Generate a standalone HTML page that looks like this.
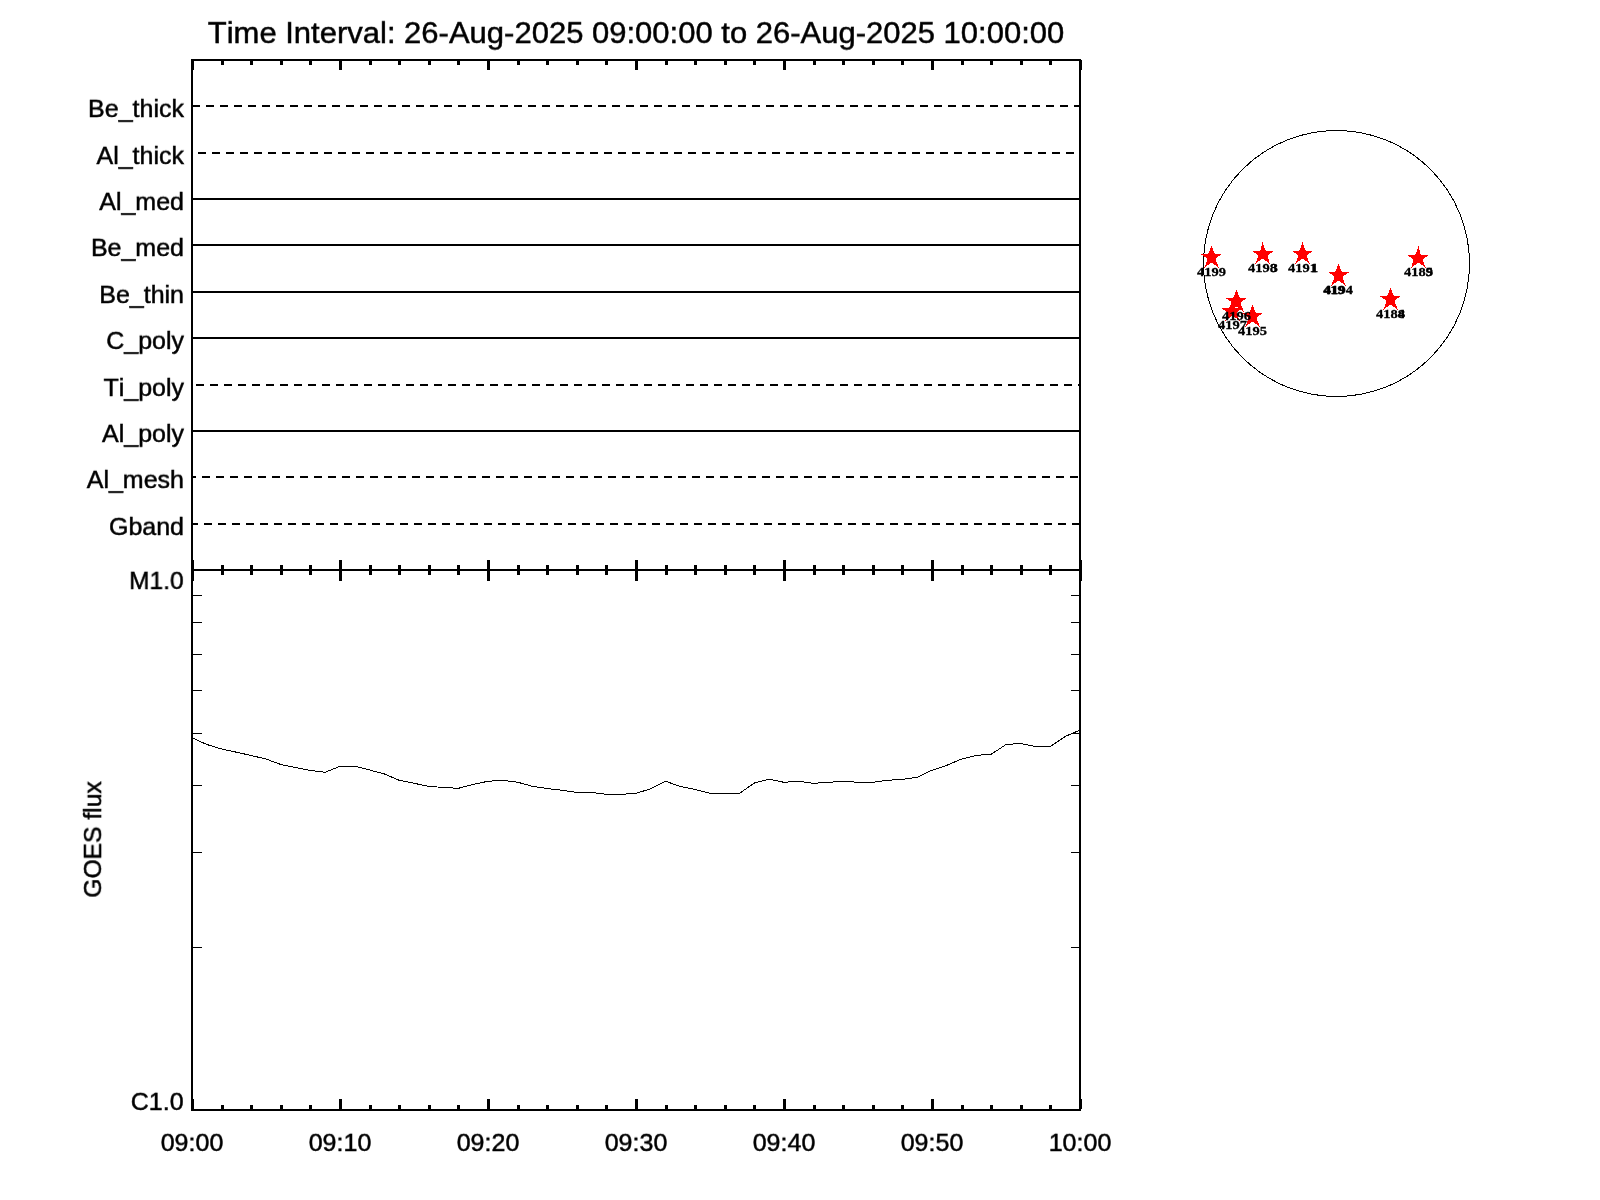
<!DOCTYPE html>
<html><head><meta charset="utf-8"><title>plot</title>
<style>
html,body{margin:0;padding:0;background:#fff;}
body{width:1600px;height:1200px;position:relative;overflow:hidden;font-family:"Liberation Sans",sans-serif;color:#000;}
i{position:absolute;display:block;}
.t{position:absolute;will-change:transform;font-kerning:none;-webkit-text-stroke:0.5px #000;transform:scaleY(0.955);transform-origin:50% 23.2px;font-size:25px;line-height:29px;white-space:nowrap;}
.r{text-align:right;}
.c{text-align:center;}
.ttl{font-size:31px;line-height:36px;transform:scale(1,0.95);transform-origin:50% 28.8px;}
.rot{transform:rotate(-90deg) scale(0.987,0.955);transform-origin:center center;}
svg{position:absolute;left:0;top:0;will-change:transform;}
.n{font-family:"Liberation Serif",serif;font-weight:bold;font-size:13.3px;stroke:#000;stroke-width:0.3px;text-anchor:middle;fill:#000;}
</style></head><body>
<i style="left:191px;top:59px;width:2px;height:1052px;background:#000"></i>
<i style="left:1079px;top:59px;width:2px;height:1052px;background:#000"></i>
<i style="left:191px;top:59px;width:890px;height:2px;background:#000"></i>
<i style="left:191px;top:569px;width:890px;height:2px;background:#000"></i>
<i style="left:191px;top:1109px;width:890px;height:2px;background:#000"></i>
<i style="left:192px;top:60px;width:2px;height:10px;background:#000"></i>
<i style="left:192px;top:560px;width:2px;height:21px;background:#000"></i>
<i style="left:192px;top:1099px;width:2px;height:10px;background:#000"></i>
<i style="left:221px;top:60px;width:3px;height:5px;background:#000"></i>
<i style="left:221px;top:565px;width:3px;height:10px;background:#000"></i>
<i style="left:221px;top:1105px;width:3px;height:5px;background:#000"></i>
<i style="left:250px;top:60px;width:3px;height:5px;background:#000"></i>
<i style="left:250px;top:565px;width:3px;height:10px;background:#000"></i>
<i style="left:250px;top:1105px;width:3px;height:5px;background:#000"></i>
<i style="left:280px;top:60px;width:3px;height:5px;background:#000"></i>
<i style="left:280px;top:565px;width:3px;height:10px;background:#000"></i>
<i style="left:280px;top:1105px;width:3px;height:5px;background:#000"></i>
<i style="left:309px;top:60px;width:3px;height:5px;background:#000"></i>
<i style="left:309px;top:565px;width:3px;height:10px;background:#000"></i>
<i style="left:309px;top:1105px;width:3px;height:5px;background:#000"></i>
<i style="left:339px;top:60px;width:3px;height:10px;background:#000"></i>
<i style="left:339px;top:560px;width:3px;height:21px;background:#000"></i>
<i style="left:339px;top:1099px;width:3px;height:10px;background:#000"></i>
<i style="left:369px;top:60px;width:3px;height:5px;background:#000"></i>
<i style="left:369px;top:565px;width:3px;height:10px;background:#000"></i>
<i style="left:369px;top:1105px;width:3px;height:5px;background:#000"></i>
<i style="left:398px;top:60px;width:3px;height:5px;background:#000"></i>
<i style="left:398px;top:565px;width:3px;height:10px;background:#000"></i>
<i style="left:398px;top:1105px;width:3px;height:5px;background:#000"></i>
<i style="left:428px;top:60px;width:3px;height:5px;background:#000"></i>
<i style="left:428px;top:565px;width:3px;height:10px;background:#000"></i>
<i style="left:428px;top:1105px;width:3px;height:5px;background:#000"></i>
<i style="left:457px;top:60px;width:3px;height:5px;background:#000"></i>
<i style="left:457px;top:565px;width:3px;height:10px;background:#000"></i>
<i style="left:457px;top:1105px;width:3px;height:5px;background:#000"></i>
<i style="left:487px;top:60px;width:3px;height:10px;background:#000"></i>
<i style="left:487px;top:560px;width:3px;height:21px;background:#000"></i>
<i style="left:487px;top:1099px;width:3px;height:10px;background:#000"></i>
<i style="left:517px;top:60px;width:3px;height:5px;background:#000"></i>
<i style="left:517px;top:565px;width:3px;height:10px;background:#000"></i>
<i style="left:517px;top:1105px;width:3px;height:5px;background:#000"></i>
<i style="left:546px;top:60px;width:3px;height:5px;background:#000"></i>
<i style="left:546px;top:565px;width:3px;height:10px;background:#000"></i>
<i style="left:546px;top:1105px;width:3px;height:5px;background:#000"></i>
<i style="left:576px;top:60px;width:3px;height:5px;background:#000"></i>
<i style="left:576px;top:565px;width:3px;height:10px;background:#000"></i>
<i style="left:576px;top:1105px;width:3px;height:5px;background:#000"></i>
<i style="left:605px;top:60px;width:3px;height:5px;background:#000"></i>
<i style="left:605px;top:565px;width:3px;height:10px;background:#000"></i>
<i style="left:605px;top:1105px;width:3px;height:5px;background:#000"></i>
<i style="left:635px;top:60px;width:3px;height:10px;background:#000"></i>
<i style="left:635px;top:560px;width:3px;height:21px;background:#000"></i>
<i style="left:635px;top:1099px;width:3px;height:10px;background:#000"></i>
<i style="left:665px;top:60px;width:3px;height:5px;background:#000"></i>
<i style="left:665px;top:565px;width:3px;height:10px;background:#000"></i>
<i style="left:665px;top:1105px;width:3px;height:5px;background:#000"></i>
<i style="left:694px;top:60px;width:3px;height:5px;background:#000"></i>
<i style="left:694px;top:565px;width:3px;height:10px;background:#000"></i>
<i style="left:694px;top:1105px;width:3px;height:5px;background:#000"></i>
<i style="left:724px;top:60px;width:3px;height:5px;background:#000"></i>
<i style="left:724px;top:565px;width:3px;height:10px;background:#000"></i>
<i style="left:724px;top:1105px;width:3px;height:5px;background:#000"></i>
<i style="left:753px;top:60px;width:3px;height:5px;background:#000"></i>
<i style="left:753px;top:565px;width:3px;height:10px;background:#000"></i>
<i style="left:753px;top:1105px;width:3px;height:5px;background:#000"></i>
<i style="left:783px;top:60px;width:3px;height:10px;background:#000"></i>
<i style="left:783px;top:560px;width:3px;height:21px;background:#000"></i>
<i style="left:783px;top:1099px;width:3px;height:10px;background:#000"></i>
<i style="left:813px;top:60px;width:3px;height:5px;background:#000"></i>
<i style="left:813px;top:565px;width:3px;height:10px;background:#000"></i>
<i style="left:813px;top:1105px;width:3px;height:5px;background:#000"></i>
<i style="left:842px;top:60px;width:3px;height:5px;background:#000"></i>
<i style="left:842px;top:565px;width:3px;height:10px;background:#000"></i>
<i style="left:842px;top:1105px;width:3px;height:5px;background:#000"></i>
<i style="left:872px;top:60px;width:3px;height:5px;background:#000"></i>
<i style="left:872px;top:565px;width:3px;height:10px;background:#000"></i>
<i style="left:872px;top:1105px;width:3px;height:5px;background:#000"></i>
<i style="left:901px;top:60px;width:3px;height:5px;background:#000"></i>
<i style="left:901px;top:565px;width:3px;height:10px;background:#000"></i>
<i style="left:901px;top:1105px;width:3px;height:5px;background:#000"></i>
<i style="left:931px;top:60px;width:3px;height:10px;background:#000"></i>
<i style="left:931px;top:560px;width:3px;height:21px;background:#000"></i>
<i style="left:931px;top:1099px;width:3px;height:10px;background:#000"></i>
<i style="left:961px;top:60px;width:3px;height:5px;background:#000"></i>
<i style="left:961px;top:565px;width:3px;height:10px;background:#000"></i>
<i style="left:961px;top:1105px;width:3px;height:5px;background:#000"></i>
<i style="left:990px;top:60px;width:3px;height:5px;background:#000"></i>
<i style="left:990px;top:565px;width:3px;height:10px;background:#000"></i>
<i style="left:990px;top:1105px;width:3px;height:5px;background:#000"></i>
<i style="left:1020px;top:60px;width:3px;height:5px;background:#000"></i>
<i style="left:1020px;top:565px;width:3px;height:10px;background:#000"></i>
<i style="left:1020px;top:1105px;width:3px;height:5px;background:#000"></i>
<i style="left:1049px;top:60px;width:3px;height:5px;background:#000"></i>
<i style="left:1049px;top:565px;width:3px;height:10px;background:#000"></i>
<i style="left:1049px;top:1105px;width:3px;height:5px;background:#000"></i>
<i style="left:1080px;top:60px;width:2px;height:10px;background:#000"></i>
<i style="left:1080px;top:560px;width:2px;height:21px;background:#000"></i>
<i style="left:1080px;top:1099px;width:2px;height:10px;background:#000"></i>
<i style="left:192px;top:105px;width:8px;height:2px;background:#000"></i>
<i style="left:206px;top:105px;width:8px;height:2px;background:#000"></i>
<i style="left:220px;top:105px;width:8px;height:2px;background:#000"></i>
<i style="left:234px;top:105px;width:8px;height:2px;background:#000"></i>
<i style="left:248px;top:105px;width:8px;height:2px;background:#000"></i>
<i style="left:262px;top:105px;width:8px;height:2px;background:#000"></i>
<i style="left:276px;top:105px;width:8px;height:2px;background:#000"></i>
<i style="left:290px;top:105px;width:8px;height:2px;background:#000"></i>
<i style="left:304px;top:105px;width:8px;height:2px;background:#000"></i>
<i style="left:318px;top:105px;width:8px;height:2px;background:#000"></i>
<i style="left:332px;top:105px;width:8px;height:2px;background:#000"></i>
<i style="left:346px;top:105px;width:8px;height:2px;background:#000"></i>
<i style="left:360px;top:105px;width:8px;height:2px;background:#000"></i>
<i style="left:374px;top:105px;width:8px;height:2px;background:#000"></i>
<i style="left:388px;top:105px;width:8px;height:2px;background:#000"></i>
<i style="left:402px;top:105px;width:8px;height:2px;background:#000"></i>
<i style="left:416px;top:105px;width:8px;height:2px;background:#000"></i>
<i style="left:430px;top:105px;width:8px;height:2px;background:#000"></i>
<i style="left:444px;top:105px;width:8px;height:2px;background:#000"></i>
<i style="left:458px;top:105px;width:8px;height:2px;background:#000"></i>
<i style="left:472px;top:105px;width:8px;height:2px;background:#000"></i>
<i style="left:486px;top:105px;width:8px;height:2px;background:#000"></i>
<i style="left:500px;top:105px;width:8px;height:2px;background:#000"></i>
<i style="left:514px;top:105px;width:8px;height:2px;background:#000"></i>
<i style="left:528px;top:105px;width:8px;height:2px;background:#000"></i>
<i style="left:542px;top:105px;width:8px;height:2px;background:#000"></i>
<i style="left:556px;top:105px;width:8px;height:2px;background:#000"></i>
<i style="left:570px;top:105px;width:8px;height:2px;background:#000"></i>
<i style="left:584px;top:105px;width:8px;height:2px;background:#000"></i>
<i style="left:598px;top:105px;width:8px;height:2px;background:#000"></i>
<i style="left:612px;top:105px;width:8px;height:2px;background:#000"></i>
<i style="left:626px;top:105px;width:8px;height:2px;background:#000"></i>
<i style="left:640px;top:105px;width:8px;height:2px;background:#000"></i>
<i style="left:654px;top:105px;width:8px;height:2px;background:#000"></i>
<i style="left:668px;top:105px;width:8px;height:2px;background:#000"></i>
<i style="left:682px;top:105px;width:8px;height:2px;background:#000"></i>
<i style="left:696px;top:105px;width:8px;height:2px;background:#000"></i>
<i style="left:710px;top:105px;width:8px;height:2px;background:#000"></i>
<i style="left:724px;top:105px;width:8px;height:2px;background:#000"></i>
<i style="left:738px;top:105px;width:8px;height:2px;background:#000"></i>
<i style="left:752px;top:105px;width:8px;height:2px;background:#000"></i>
<i style="left:766px;top:105px;width:8px;height:2px;background:#000"></i>
<i style="left:780px;top:105px;width:8px;height:2px;background:#000"></i>
<i style="left:794px;top:105px;width:8px;height:2px;background:#000"></i>
<i style="left:808px;top:105px;width:8px;height:2px;background:#000"></i>
<i style="left:822px;top:105px;width:8px;height:2px;background:#000"></i>
<i style="left:836px;top:105px;width:8px;height:2px;background:#000"></i>
<i style="left:850px;top:105px;width:8px;height:2px;background:#000"></i>
<i style="left:864px;top:105px;width:8px;height:2px;background:#000"></i>
<i style="left:878px;top:105px;width:8px;height:2px;background:#000"></i>
<i style="left:892px;top:105px;width:8px;height:2px;background:#000"></i>
<i style="left:906px;top:105px;width:8px;height:2px;background:#000"></i>
<i style="left:920px;top:105px;width:8px;height:2px;background:#000"></i>
<i style="left:934px;top:105px;width:8px;height:2px;background:#000"></i>
<i style="left:948px;top:105px;width:8px;height:2px;background:#000"></i>
<i style="left:962px;top:105px;width:8px;height:2px;background:#000"></i>
<i style="left:976px;top:105px;width:8px;height:2px;background:#000"></i>
<i style="left:990px;top:105px;width:8px;height:2px;background:#000"></i>
<i style="left:1004px;top:105px;width:8px;height:2px;background:#000"></i>
<i style="left:1018px;top:105px;width:8px;height:2px;background:#000"></i>
<i style="left:1032px;top:105px;width:8px;height:2px;background:#000"></i>
<i style="left:1046px;top:105px;width:8px;height:2px;background:#000"></i>
<i style="left:1060px;top:105px;width:8px;height:2px;background:#000"></i>
<i style="left:1074px;top:105px;width:6px;height:2px;background:#000"></i>
<i style="left:198px;top:152px;width:8px;height:2px;background:#000"></i>
<i style="left:212px;top:152px;width:8px;height:2px;background:#000"></i>
<i style="left:226px;top:152px;width:8px;height:2px;background:#000"></i>
<i style="left:240px;top:152px;width:8px;height:2px;background:#000"></i>
<i style="left:254px;top:152px;width:8px;height:2px;background:#000"></i>
<i style="left:268px;top:152px;width:8px;height:2px;background:#000"></i>
<i style="left:282px;top:152px;width:8px;height:2px;background:#000"></i>
<i style="left:296px;top:152px;width:8px;height:2px;background:#000"></i>
<i style="left:310px;top:152px;width:8px;height:2px;background:#000"></i>
<i style="left:324px;top:152px;width:8px;height:2px;background:#000"></i>
<i style="left:338px;top:152px;width:8px;height:2px;background:#000"></i>
<i style="left:352px;top:152px;width:8px;height:2px;background:#000"></i>
<i style="left:366px;top:152px;width:8px;height:2px;background:#000"></i>
<i style="left:380px;top:152px;width:8px;height:2px;background:#000"></i>
<i style="left:394px;top:152px;width:8px;height:2px;background:#000"></i>
<i style="left:408px;top:152px;width:8px;height:2px;background:#000"></i>
<i style="left:422px;top:152px;width:8px;height:2px;background:#000"></i>
<i style="left:436px;top:152px;width:8px;height:2px;background:#000"></i>
<i style="left:450px;top:152px;width:8px;height:2px;background:#000"></i>
<i style="left:464px;top:152px;width:8px;height:2px;background:#000"></i>
<i style="left:478px;top:152px;width:8px;height:2px;background:#000"></i>
<i style="left:492px;top:152px;width:8px;height:2px;background:#000"></i>
<i style="left:506px;top:152px;width:8px;height:2px;background:#000"></i>
<i style="left:520px;top:152px;width:8px;height:2px;background:#000"></i>
<i style="left:534px;top:152px;width:8px;height:2px;background:#000"></i>
<i style="left:548px;top:152px;width:8px;height:2px;background:#000"></i>
<i style="left:562px;top:152px;width:8px;height:2px;background:#000"></i>
<i style="left:576px;top:152px;width:8px;height:2px;background:#000"></i>
<i style="left:590px;top:152px;width:8px;height:2px;background:#000"></i>
<i style="left:604px;top:152px;width:8px;height:2px;background:#000"></i>
<i style="left:618px;top:152px;width:8px;height:2px;background:#000"></i>
<i style="left:632px;top:152px;width:8px;height:2px;background:#000"></i>
<i style="left:646px;top:152px;width:8px;height:2px;background:#000"></i>
<i style="left:660px;top:152px;width:8px;height:2px;background:#000"></i>
<i style="left:674px;top:152px;width:8px;height:2px;background:#000"></i>
<i style="left:688px;top:152px;width:8px;height:2px;background:#000"></i>
<i style="left:702px;top:152px;width:8px;height:2px;background:#000"></i>
<i style="left:716px;top:152px;width:8px;height:2px;background:#000"></i>
<i style="left:730px;top:152px;width:8px;height:2px;background:#000"></i>
<i style="left:744px;top:152px;width:8px;height:2px;background:#000"></i>
<i style="left:758px;top:152px;width:8px;height:2px;background:#000"></i>
<i style="left:772px;top:152px;width:8px;height:2px;background:#000"></i>
<i style="left:786px;top:152px;width:8px;height:2px;background:#000"></i>
<i style="left:800px;top:152px;width:8px;height:2px;background:#000"></i>
<i style="left:814px;top:152px;width:8px;height:2px;background:#000"></i>
<i style="left:828px;top:152px;width:8px;height:2px;background:#000"></i>
<i style="left:842px;top:152px;width:8px;height:2px;background:#000"></i>
<i style="left:856px;top:152px;width:8px;height:2px;background:#000"></i>
<i style="left:870px;top:152px;width:8px;height:2px;background:#000"></i>
<i style="left:884px;top:152px;width:8px;height:2px;background:#000"></i>
<i style="left:898px;top:152px;width:8px;height:2px;background:#000"></i>
<i style="left:912px;top:152px;width:8px;height:2px;background:#000"></i>
<i style="left:926px;top:152px;width:8px;height:2px;background:#000"></i>
<i style="left:940px;top:152px;width:8px;height:2px;background:#000"></i>
<i style="left:954px;top:152px;width:8px;height:2px;background:#000"></i>
<i style="left:968px;top:152px;width:8px;height:2px;background:#000"></i>
<i style="left:982px;top:152px;width:8px;height:2px;background:#000"></i>
<i style="left:996px;top:152px;width:8px;height:2px;background:#000"></i>
<i style="left:1010px;top:152px;width:8px;height:2px;background:#000"></i>
<i style="left:1024px;top:152px;width:8px;height:2px;background:#000"></i>
<i style="left:1038px;top:152px;width:8px;height:2px;background:#000"></i>
<i style="left:1052px;top:152px;width:8px;height:2px;background:#000"></i>
<i style="left:1066px;top:152px;width:8px;height:2px;background:#000"></i>
<i style="left:193px;top:198px;width:886px;height:2px;background:#000"></i>
<i style="left:193px;top:244px;width:886px;height:2px;background:#000"></i>
<i style="left:193px;top:291px;width:886px;height:2px;background:#000"></i>
<i style="left:193px;top:337px;width:886px;height:2px;background:#000"></i>
<i style="left:196px;top:384px;width:8px;height:2px;background:#000"></i>
<i style="left:210px;top:384px;width:8px;height:2px;background:#000"></i>
<i style="left:224px;top:384px;width:8px;height:2px;background:#000"></i>
<i style="left:238px;top:384px;width:8px;height:2px;background:#000"></i>
<i style="left:252px;top:384px;width:8px;height:2px;background:#000"></i>
<i style="left:266px;top:384px;width:8px;height:2px;background:#000"></i>
<i style="left:280px;top:384px;width:8px;height:2px;background:#000"></i>
<i style="left:294px;top:384px;width:8px;height:2px;background:#000"></i>
<i style="left:308px;top:384px;width:8px;height:2px;background:#000"></i>
<i style="left:322px;top:384px;width:8px;height:2px;background:#000"></i>
<i style="left:336px;top:384px;width:8px;height:2px;background:#000"></i>
<i style="left:350px;top:384px;width:8px;height:2px;background:#000"></i>
<i style="left:364px;top:384px;width:8px;height:2px;background:#000"></i>
<i style="left:378px;top:384px;width:8px;height:2px;background:#000"></i>
<i style="left:392px;top:384px;width:8px;height:2px;background:#000"></i>
<i style="left:406px;top:384px;width:8px;height:2px;background:#000"></i>
<i style="left:420px;top:384px;width:8px;height:2px;background:#000"></i>
<i style="left:434px;top:384px;width:8px;height:2px;background:#000"></i>
<i style="left:448px;top:384px;width:8px;height:2px;background:#000"></i>
<i style="left:462px;top:384px;width:8px;height:2px;background:#000"></i>
<i style="left:476px;top:384px;width:8px;height:2px;background:#000"></i>
<i style="left:490px;top:384px;width:8px;height:2px;background:#000"></i>
<i style="left:504px;top:384px;width:8px;height:2px;background:#000"></i>
<i style="left:518px;top:384px;width:8px;height:2px;background:#000"></i>
<i style="left:532px;top:384px;width:8px;height:2px;background:#000"></i>
<i style="left:546px;top:384px;width:8px;height:2px;background:#000"></i>
<i style="left:560px;top:384px;width:8px;height:2px;background:#000"></i>
<i style="left:574px;top:384px;width:8px;height:2px;background:#000"></i>
<i style="left:588px;top:384px;width:8px;height:2px;background:#000"></i>
<i style="left:602px;top:384px;width:8px;height:2px;background:#000"></i>
<i style="left:616px;top:384px;width:8px;height:2px;background:#000"></i>
<i style="left:630px;top:384px;width:8px;height:2px;background:#000"></i>
<i style="left:644px;top:384px;width:8px;height:2px;background:#000"></i>
<i style="left:658px;top:384px;width:8px;height:2px;background:#000"></i>
<i style="left:672px;top:384px;width:8px;height:2px;background:#000"></i>
<i style="left:686px;top:384px;width:8px;height:2px;background:#000"></i>
<i style="left:700px;top:384px;width:8px;height:2px;background:#000"></i>
<i style="left:714px;top:384px;width:8px;height:2px;background:#000"></i>
<i style="left:728px;top:384px;width:8px;height:2px;background:#000"></i>
<i style="left:742px;top:384px;width:8px;height:2px;background:#000"></i>
<i style="left:756px;top:384px;width:8px;height:2px;background:#000"></i>
<i style="left:770px;top:384px;width:8px;height:2px;background:#000"></i>
<i style="left:784px;top:384px;width:8px;height:2px;background:#000"></i>
<i style="left:798px;top:384px;width:8px;height:2px;background:#000"></i>
<i style="left:812px;top:384px;width:8px;height:2px;background:#000"></i>
<i style="left:826px;top:384px;width:8px;height:2px;background:#000"></i>
<i style="left:840px;top:384px;width:8px;height:2px;background:#000"></i>
<i style="left:854px;top:384px;width:8px;height:2px;background:#000"></i>
<i style="left:868px;top:384px;width:8px;height:2px;background:#000"></i>
<i style="left:882px;top:384px;width:8px;height:2px;background:#000"></i>
<i style="left:896px;top:384px;width:8px;height:2px;background:#000"></i>
<i style="left:910px;top:384px;width:8px;height:2px;background:#000"></i>
<i style="left:924px;top:384px;width:8px;height:2px;background:#000"></i>
<i style="left:938px;top:384px;width:8px;height:2px;background:#000"></i>
<i style="left:952px;top:384px;width:8px;height:2px;background:#000"></i>
<i style="left:966px;top:384px;width:8px;height:2px;background:#000"></i>
<i style="left:980px;top:384px;width:8px;height:2px;background:#000"></i>
<i style="left:994px;top:384px;width:8px;height:2px;background:#000"></i>
<i style="left:1008px;top:384px;width:8px;height:2px;background:#000"></i>
<i style="left:1022px;top:384px;width:8px;height:2px;background:#000"></i>
<i style="left:1036px;top:384px;width:8px;height:2px;background:#000"></i>
<i style="left:1050px;top:384px;width:8px;height:2px;background:#000"></i>
<i style="left:1064px;top:384px;width:8px;height:2px;background:#000"></i>
<i style="left:1078px;top:384px;width:2px;height:2px;background:#000"></i>
<i style="left:193px;top:430px;width:886px;height:2px;background:#000"></i>
<i style="left:192px;top:476px;width:4px;height:2px;background:#000"></i>
<i style="left:202px;top:476px;width:8px;height:2px;background:#000"></i>
<i style="left:216px;top:476px;width:8px;height:2px;background:#000"></i>
<i style="left:230px;top:476px;width:8px;height:2px;background:#000"></i>
<i style="left:244px;top:476px;width:8px;height:2px;background:#000"></i>
<i style="left:258px;top:476px;width:8px;height:2px;background:#000"></i>
<i style="left:272px;top:476px;width:8px;height:2px;background:#000"></i>
<i style="left:286px;top:476px;width:8px;height:2px;background:#000"></i>
<i style="left:300px;top:476px;width:8px;height:2px;background:#000"></i>
<i style="left:314px;top:476px;width:8px;height:2px;background:#000"></i>
<i style="left:328px;top:476px;width:8px;height:2px;background:#000"></i>
<i style="left:342px;top:476px;width:8px;height:2px;background:#000"></i>
<i style="left:356px;top:476px;width:8px;height:2px;background:#000"></i>
<i style="left:370px;top:476px;width:8px;height:2px;background:#000"></i>
<i style="left:384px;top:476px;width:8px;height:2px;background:#000"></i>
<i style="left:398px;top:476px;width:8px;height:2px;background:#000"></i>
<i style="left:412px;top:476px;width:8px;height:2px;background:#000"></i>
<i style="left:426px;top:476px;width:8px;height:2px;background:#000"></i>
<i style="left:440px;top:476px;width:8px;height:2px;background:#000"></i>
<i style="left:454px;top:476px;width:8px;height:2px;background:#000"></i>
<i style="left:468px;top:476px;width:8px;height:2px;background:#000"></i>
<i style="left:482px;top:476px;width:8px;height:2px;background:#000"></i>
<i style="left:496px;top:476px;width:8px;height:2px;background:#000"></i>
<i style="left:510px;top:476px;width:8px;height:2px;background:#000"></i>
<i style="left:524px;top:476px;width:8px;height:2px;background:#000"></i>
<i style="left:538px;top:476px;width:8px;height:2px;background:#000"></i>
<i style="left:552px;top:476px;width:8px;height:2px;background:#000"></i>
<i style="left:566px;top:476px;width:8px;height:2px;background:#000"></i>
<i style="left:580px;top:476px;width:8px;height:2px;background:#000"></i>
<i style="left:594px;top:476px;width:8px;height:2px;background:#000"></i>
<i style="left:608px;top:476px;width:8px;height:2px;background:#000"></i>
<i style="left:622px;top:476px;width:8px;height:2px;background:#000"></i>
<i style="left:636px;top:476px;width:8px;height:2px;background:#000"></i>
<i style="left:650px;top:476px;width:8px;height:2px;background:#000"></i>
<i style="left:664px;top:476px;width:8px;height:2px;background:#000"></i>
<i style="left:678px;top:476px;width:8px;height:2px;background:#000"></i>
<i style="left:692px;top:476px;width:8px;height:2px;background:#000"></i>
<i style="left:706px;top:476px;width:8px;height:2px;background:#000"></i>
<i style="left:720px;top:476px;width:8px;height:2px;background:#000"></i>
<i style="left:734px;top:476px;width:8px;height:2px;background:#000"></i>
<i style="left:748px;top:476px;width:8px;height:2px;background:#000"></i>
<i style="left:762px;top:476px;width:8px;height:2px;background:#000"></i>
<i style="left:776px;top:476px;width:8px;height:2px;background:#000"></i>
<i style="left:790px;top:476px;width:8px;height:2px;background:#000"></i>
<i style="left:804px;top:476px;width:8px;height:2px;background:#000"></i>
<i style="left:818px;top:476px;width:8px;height:2px;background:#000"></i>
<i style="left:832px;top:476px;width:8px;height:2px;background:#000"></i>
<i style="left:846px;top:476px;width:8px;height:2px;background:#000"></i>
<i style="left:860px;top:476px;width:8px;height:2px;background:#000"></i>
<i style="left:874px;top:476px;width:8px;height:2px;background:#000"></i>
<i style="left:888px;top:476px;width:8px;height:2px;background:#000"></i>
<i style="left:902px;top:476px;width:8px;height:2px;background:#000"></i>
<i style="left:916px;top:476px;width:8px;height:2px;background:#000"></i>
<i style="left:930px;top:476px;width:8px;height:2px;background:#000"></i>
<i style="left:944px;top:476px;width:8px;height:2px;background:#000"></i>
<i style="left:958px;top:476px;width:8px;height:2px;background:#000"></i>
<i style="left:972px;top:476px;width:8px;height:2px;background:#000"></i>
<i style="left:986px;top:476px;width:8px;height:2px;background:#000"></i>
<i style="left:1000px;top:476px;width:8px;height:2px;background:#000"></i>
<i style="left:1014px;top:476px;width:8px;height:2px;background:#000"></i>
<i style="left:1028px;top:476px;width:8px;height:2px;background:#000"></i>
<i style="left:1042px;top:476px;width:8px;height:2px;background:#000"></i>
<i style="left:1056px;top:476px;width:8px;height:2px;background:#000"></i>
<i style="left:1070px;top:476px;width:8px;height:2px;background:#000"></i>
<i style="left:192px;top:523px;width:6px;height:2px;background:#000"></i>
<i style="left:204px;top:523px;width:8px;height:2px;background:#000"></i>
<i style="left:218px;top:523px;width:8px;height:2px;background:#000"></i>
<i style="left:232px;top:523px;width:8px;height:2px;background:#000"></i>
<i style="left:246px;top:523px;width:8px;height:2px;background:#000"></i>
<i style="left:260px;top:523px;width:8px;height:2px;background:#000"></i>
<i style="left:274px;top:523px;width:8px;height:2px;background:#000"></i>
<i style="left:288px;top:523px;width:8px;height:2px;background:#000"></i>
<i style="left:302px;top:523px;width:8px;height:2px;background:#000"></i>
<i style="left:316px;top:523px;width:8px;height:2px;background:#000"></i>
<i style="left:330px;top:523px;width:8px;height:2px;background:#000"></i>
<i style="left:344px;top:523px;width:8px;height:2px;background:#000"></i>
<i style="left:358px;top:523px;width:8px;height:2px;background:#000"></i>
<i style="left:372px;top:523px;width:8px;height:2px;background:#000"></i>
<i style="left:386px;top:523px;width:8px;height:2px;background:#000"></i>
<i style="left:400px;top:523px;width:8px;height:2px;background:#000"></i>
<i style="left:414px;top:523px;width:8px;height:2px;background:#000"></i>
<i style="left:428px;top:523px;width:8px;height:2px;background:#000"></i>
<i style="left:442px;top:523px;width:8px;height:2px;background:#000"></i>
<i style="left:456px;top:523px;width:8px;height:2px;background:#000"></i>
<i style="left:470px;top:523px;width:8px;height:2px;background:#000"></i>
<i style="left:484px;top:523px;width:8px;height:2px;background:#000"></i>
<i style="left:498px;top:523px;width:8px;height:2px;background:#000"></i>
<i style="left:512px;top:523px;width:8px;height:2px;background:#000"></i>
<i style="left:526px;top:523px;width:8px;height:2px;background:#000"></i>
<i style="left:540px;top:523px;width:8px;height:2px;background:#000"></i>
<i style="left:554px;top:523px;width:8px;height:2px;background:#000"></i>
<i style="left:568px;top:523px;width:8px;height:2px;background:#000"></i>
<i style="left:582px;top:523px;width:8px;height:2px;background:#000"></i>
<i style="left:596px;top:523px;width:8px;height:2px;background:#000"></i>
<i style="left:610px;top:523px;width:8px;height:2px;background:#000"></i>
<i style="left:624px;top:523px;width:8px;height:2px;background:#000"></i>
<i style="left:638px;top:523px;width:8px;height:2px;background:#000"></i>
<i style="left:652px;top:523px;width:8px;height:2px;background:#000"></i>
<i style="left:666px;top:523px;width:8px;height:2px;background:#000"></i>
<i style="left:680px;top:523px;width:8px;height:2px;background:#000"></i>
<i style="left:694px;top:523px;width:8px;height:2px;background:#000"></i>
<i style="left:708px;top:523px;width:8px;height:2px;background:#000"></i>
<i style="left:722px;top:523px;width:8px;height:2px;background:#000"></i>
<i style="left:736px;top:523px;width:8px;height:2px;background:#000"></i>
<i style="left:750px;top:523px;width:8px;height:2px;background:#000"></i>
<i style="left:764px;top:523px;width:8px;height:2px;background:#000"></i>
<i style="left:778px;top:523px;width:8px;height:2px;background:#000"></i>
<i style="left:792px;top:523px;width:8px;height:2px;background:#000"></i>
<i style="left:806px;top:523px;width:8px;height:2px;background:#000"></i>
<i style="left:820px;top:523px;width:8px;height:2px;background:#000"></i>
<i style="left:834px;top:523px;width:8px;height:2px;background:#000"></i>
<i style="left:848px;top:523px;width:8px;height:2px;background:#000"></i>
<i style="left:862px;top:523px;width:8px;height:2px;background:#000"></i>
<i style="left:876px;top:523px;width:8px;height:2px;background:#000"></i>
<i style="left:890px;top:523px;width:8px;height:2px;background:#000"></i>
<i style="left:904px;top:523px;width:8px;height:2px;background:#000"></i>
<i style="left:918px;top:523px;width:8px;height:2px;background:#000"></i>
<i style="left:932px;top:523px;width:8px;height:2px;background:#000"></i>
<i style="left:946px;top:523px;width:8px;height:2px;background:#000"></i>
<i style="left:960px;top:523px;width:8px;height:2px;background:#000"></i>
<i style="left:974px;top:523px;width:8px;height:2px;background:#000"></i>
<i style="left:988px;top:523px;width:8px;height:2px;background:#000"></i>
<i style="left:1002px;top:523px;width:8px;height:2px;background:#000"></i>
<i style="left:1016px;top:523px;width:8px;height:2px;background:#000"></i>
<i style="left:1030px;top:523px;width:8px;height:2px;background:#000"></i>
<i style="left:1044px;top:523px;width:8px;height:2px;background:#000"></i>
<i style="left:1058px;top:523px;width:8px;height:2px;background:#000"></i>
<i style="left:1072px;top:523px;width:8px;height:2px;background:#000"></i>
<i style="left:193px;top:947px;width:9px;height:1px;background:#000"></i>
<i style="left:1071px;top:947px;width:8px;height:1px;background:#000"></i>
<i style="left:193px;top:852px;width:9px;height:1px;background:#000"></i>
<i style="left:1071px;top:852px;width:8px;height:1px;background:#000"></i>
<i style="left:193px;top:785px;width:9px;height:1px;background:#000"></i>
<i style="left:1071px;top:785px;width:8px;height:1px;background:#000"></i>
<i style="left:193px;top:733px;width:9px;height:1px;background:#000"></i>
<i style="left:1071px;top:733px;width:8px;height:1px;background:#000"></i>
<i style="left:193px;top:690px;width:9px;height:1px;background:#000"></i>
<i style="left:1071px;top:690px;width:8px;height:1px;background:#000"></i>
<i style="left:193px;top:654px;width:9px;height:1px;background:#000"></i>
<i style="left:1071px;top:654px;width:8px;height:1px;background:#000"></i>
<i style="left:193px;top:622px;width:9px;height:1px;background:#000"></i>
<i style="left:1071px;top:622px;width:8px;height:1px;background:#000"></i>
<i style="left:193px;top:595px;width:9px;height:1px;background:#000"></i>
<i style="left:1071px;top:595px;width:8px;height:1px;background:#000"></i>
<svg width="1600" height="1200" viewBox="0 0 1600 1200">
<circle cx="1336.5" cy="263.5" r="133" fill="none" stroke="#000" stroke-width="1" shape-rendering="crispEdges"/>
<polyline points="192.0,737.8 206.8,744.5 221.6,749.0 236.4,752.2 251.2,755.5 266.0,759.0 280.8,764.5 295.6,767.5 310.4,770.5 325.2,772.2 340.0,766.3 354.8,766.3 369.6,770.0 384.4,774.0 399.2,780.3 414.0,783.3 428.8,786.3 443.6,787.5 458.4,788.3 473.2,784.3 488.0,781.3 502.8,780.3 517.6,782.2 532.4,786.3 547.2,788.5 562.0,790.3 576.8,792.4 591.6,792.4 606.4,794.3 621.2,794.3 636.0,793.3 650.8,788.8 665.6,781.3 680.4,786.5 695.2,789.5 710.0,793.3 724.8,793.3 739.6,793.3 754.4,783.0 769.2,779.3 784.0,782.3 798.8,781.3 813.6,783.3 828.4,782.3 843.2,781.3 858.0,782.3 872.8,782.3 887.6,780.3 902.4,779.3 917.2,777.3 932.0,770.2 946.8,765.3 961.6,759.0 976.4,755.3 991.2,754.3 1006.0,744.5 1020.8,743.5 1035.6,746.5 1050.4,746.5 1065.2,736.5 1080.0,730.0" fill="none" stroke="#000" stroke-width="1" shape-rendering="crispEdges"/>
<path d="M1211 246h1v1h-1zM1211 247h1v1h-1zM1210 248h3v1h-3zM1210 249h3v1h-3zM1210 250h3v1h-3zM1209 251h5v1h-5zM1209 252h5v1h-5zM1208 253h7v1h-7zM1201 254h20v1h-20zM1203 255h17v1h-17zM1204 256h14v1h-14zM1206 257h11v1h-11zM1207 258h9v1h-9zM1207 259h9v1h-9zM1207 260h9v1h-9zM1207 261h9v1h-9zM1206 262h11v1h-11zM1206 263h4v1h-4zM1213 263h4v1h-4zM1206 264h3v1h-3zM1214 264h4v1h-4zM1205 265h2v1h-2zM1216 265h2v1h-2zM1205 266h1v1h-1zM1217 266h1v1h-1zM1204 267h1v1h-1zM1218 267h1v1h-1zM1262 242h1v1h-1zM1262 243h1v1h-1zM1262 244h1v1h-1zM1262 245h2v1h-2zM1261 246h3v1h-3zM1261 247h3v1h-3zM1261 248h4v1h-4zM1261 249h4v1h-4zM1260 250h6v1h-6zM1253 251h20v1h-20zM1254 252h18v1h-18zM1256 253h14v1h-14zM1257 254h12v1h-12zM1258 255h10v1h-10zM1258 256h10v1h-10zM1258 257h10v1h-10zM1257 258h11v1h-11zM1257 259h4v1h-4zM1264 259h5v1h-5zM1257 260h3v1h-3zM1265 260h4v1h-4zM1256 261h2v1h-2zM1267 261h2v1h-2zM1256 262h1v1h-1zM1268 262h1v1h-1zM1255 263h1v1h-1zM1269 263h1v1h-1zM1302 242h1v1h-1zM1302 243h1v1h-1zM1302 244h1v1h-1zM1301 245h3v1h-3zM1301 246h3v1h-3zM1301 247h3v1h-3zM1300 248h5v1h-5zM1300 249h5v1h-5zM1299 250h7v1h-7zM1293 251h19v1h-19zM1294 252h17v1h-17zM1296 253h13v1h-13zM1297 254h11v1h-11zM1298 255h9v1h-9zM1298 256h9v1h-9zM1298 257h9v1h-9zM1297 258h11v1h-11zM1297 259h4v1h-4zM1304 259h4v1h-4zM1297 260h3v1h-3zM1305 260h3v1h-3zM1296 261h2v1h-2zM1307 261h2v1h-2zM1296 262h1v1h-1zM1308 262h1v1h-1zM1295 263h1v1h-1zM1309 263h1v1h-1zM1338 264h1v1h-1zM1338 265h1v1h-1zM1337 266h3v1h-3zM1337 267h3v1h-3zM1337 268h3v1h-3zM1336 269h5v1h-5zM1336 270h5v1h-5zM1335 271h7v1h-7zM1329 272h20v1h-20zM1330 273h17v1h-17zM1332 274h14v1h-14zM1333 275h11v1h-11zM1334 276h9v1h-9zM1334 277h9v1h-9zM1334 278h9v1h-9zM1334 279h9v1h-9zM1333 280h11v1h-11zM1333 281h4v1h-4zM1340 281h4v1h-4zM1332 282h4v1h-4zM1341 282h3v1h-3zM1332 283h2v1h-2zM1343 283h2v1h-2zM1332 284h1v1h-1zM1344 284h1v1h-1zM1331 285h1v1h-1zM1345 285h1v1h-1zM1418 246h1v1h-1zM1418 247h1v1h-1zM1418 248h1v1h-1zM1417 249h2v1h-2zM1417 250h3v1h-3zM1417 251h3v1h-3zM1416 252h4v1h-4zM1416 253h4v1h-4zM1415 254h6v1h-6zM1408 255h20v1h-20zM1409 256h18v1h-18zM1411 257h14v1h-14zM1412 258h12v1h-12zM1413 259h10v1h-10zM1413 260h10v1h-10zM1413 261h10v1h-10zM1413 262h11v1h-11zM1412 263h5v1h-5zM1420 263h4v1h-4zM1412 264h4v1h-4zM1421 264h3v1h-3zM1412 265h2v1h-2zM1423 265h2v1h-2zM1412 266h1v1h-1zM1424 266h1v1h-1zM1411 267h1v1h-1zM1425 267h1v1h-1zM1390 288h1v1h-1zM1390 289h1v1h-1zM1389 290h3v1h-3zM1389 291h3v1h-3zM1389 292h3v1h-3zM1388 293h5v1h-5zM1388 294h5v1h-5zM1387 295h7v1h-7zM1380 296h20v1h-20zM1382 297h17v1h-17zM1383 298h14v1h-14zM1385 299h11v1h-11zM1386 300h9v1h-9zM1386 301h9v1h-9zM1386 302h9v1h-9zM1386 303h9v1h-9zM1385 304h11v1h-11zM1385 305h4v1h-4zM1392 305h4v1h-4zM1385 306h3v1h-3zM1393 306h4v1h-4zM1384 307h2v1h-2zM1395 307h2v1h-2zM1384 308h1v1h-1zM1396 308h1v1h-1zM1383 309h1v1h-1zM1397 309h1v1h-1zM1236 290h1v1h-1zM1236 291h1v1h-1zM1235 292h3v1h-3zM1235 293h3v1h-3zM1235 294h3v1h-3zM1234 295h5v1h-5zM1234 296h5v1h-5zM1233 297h7v1h-7zM1226 298h20v1h-20zM1228 299h17v1h-17zM1229 300h14v1h-14zM1231 301h11v1h-11zM1232 302h9v1h-9zM1232 303h9v1h-9zM1232 304h9v1h-9zM1232 305h9v1h-9zM1231 306h11v1h-11zM1231 307h4v1h-4zM1238 307h4v1h-4zM1231 308h3v1h-3zM1239 308h4v1h-4zM1230 309h2v1h-2zM1241 309h2v1h-2zM1230 310h1v1h-1zM1242 310h1v1h-1zM1229 311h1v1h-1zM1243 311h1v1h-1zM1232 299h1v1h-1zM1232 300h1v1h-1zM1232 301h1v1h-1zM1231 302h2v1h-2zM1231 303h3v1h-3zM1231 304h3v1h-3zM1230 305h4v1h-4zM1230 306h4v1h-4zM1229 307h6v1h-6zM1222 308h20v1h-20zM1223 309h18v1h-18zM1225 310h14v1h-14zM1226 311h12v1h-12zM1227 312h10v1h-10zM1227 313h10v1h-10zM1227 314h10v1h-10zM1227 315h11v1h-11zM1226 316h5v1h-5zM1234 316h4v1h-4zM1226 317h4v1h-4zM1235 317h3v1h-3zM1226 318h2v1h-2zM1237 318h2v1h-2zM1226 319h1v1h-1zM1238 319h1v1h-1zM1225 320h1v1h-1zM1239 320h1v1h-1zM1252 305h1v1h-1zM1252 306h1v1h-1zM1251 307h3v1h-3zM1251 308h3v1h-3zM1251 309h3v1h-3zM1250 310h5v1h-5zM1250 311h5v1h-5zM1249 312h7v1h-7zM1242 313h20v1h-20zM1244 314h17v1h-17zM1245 315h14v1h-14zM1247 316h11v1h-11zM1248 317h9v1h-9zM1248 318h9v1h-9zM1248 319h9v1h-9zM1248 320h9v1h-9zM1247 321h11v1h-11zM1247 322h4v1h-4zM1254 322h4v1h-4zM1247 323h3v1h-3zM1255 323h4v1h-4zM1246 324h2v1h-2zM1257 324h2v1h-2zM1246 325h1v1h-1zM1258 325h1v1h-1zM1245 326h1v1h-1zM1259 326h1v1h-1z" fill="#f00" shape-rendering="crispEdges"/>
<text transform="translate(1211.5,276.2) scale(1.085,1)" class="n">4199</text>
<text transform="translate(1262.5,272.2) scale(1.085,1)" class="n">4198</text>
<text transform="translate(1302.5,272.2) scale(1.085,1)" class="n">4191</text>
<text transform="translate(1338.5,294.2) scale(1.085,1)" class="n">4194</text>
<text transform="translate(1418.5,276.2) scale(1.085,1)" class="n">4189</text>
<text transform="translate(1390.5,318.2) scale(1.085,1)" class="n">4188</text>
<text transform="translate(1236.5,320.2) scale(1.085,1)" class="n">4196</text>
<text transform="translate(1232.5,329.2) scale(1.085,1)" class="n">4197</text>
<text transform="translate(1252.5,335.2) scale(1.085,1)" class="n">4195</text>
<text transform="translate(1263.5,272.2) scale(1.085,1)" class="n"><tspan visibility="hidden">419</tspan>3</text>
<text transform="translate(1303.7,272.2) scale(1.085,1)" class="n"><tspan visibility="hidden">419</tspan>1</text>
<text transform="translate(1390.5,318.2) scale(1.085,1)" class="n"><tspan visibility="hidden">418</tspan>4</text>
<text transform="translate(1418.5,276.2) scale(1.085,1)" class="n"><tspan visibility="hidden">418</tspan>5</text>
<text transform="translate(1337.5,294.2) scale(1.085,1)" class="n">419<tspan visibility="hidden">4</tspan></text>
</svg>
<div class="t r" style="left:0;width:184px;top:94px">Be_thick</div>
<div class="t r" style="left:0;width:184px;top:141px">Al_thick</div>
<div class="t r" style="left:0;width:184px;top:187px">Al_med</div>
<div class="t r" style="left:0;width:184px;top:233px">Be_med</div>
<div class="t r" style="left:0;width:184px;top:280px">Be_thin</div>
<div class="t r" style="left:0;width:184px;top:326px">C_poly</div>
<div class="t r" style="left:0;width:184px;top:373px">Ti_poly</div>
<div class="t r" style="left:0;width:184px;top:419px">Al_poly</div>
<div class="t r" style="left:0;width:184px;top:465px">Al_mesh</div>
<div class="t r" style="left:0;width:184px;top:512px">Gband</div>
<div class="t r" style="left:0;width:183.6px;top:566px;transform:scale(0.98,0.955);transform-origin:100% 23.2px">M1.0</div>
<div class="t r" style="left:0;width:183.6px;top:1087px">C1.0</div>
<div class="t c" style="left:132px;width:120px;top:1128px">09:00</div>
<div class="t c" style="left:280px;width:120px;top:1128px">09:10</div>
<div class="t c" style="left:428px;width:120px;top:1128px">09:20</div>
<div class="t c" style="left:576px;width:120px;top:1128px">09:30</div>
<div class="t c" style="left:724px;width:120px;top:1128px">09:40</div>
<div class="t c" style="left:872px;width:120px;top:1128px">09:50</div>
<div class="t c" style="left:1020px;width:120px;top:1128px">10:00</div>
<div class="t c ttl" style="left:136px;width:1000px;top:15px">Time Interval: 26-Aug-2025 09:00:00 to 26-Aug-2025 10:00:00</div>
<div class="t c rot" style="left:-7.4px;width:200px;top:825px">GOES flux</div>
</body></html>
